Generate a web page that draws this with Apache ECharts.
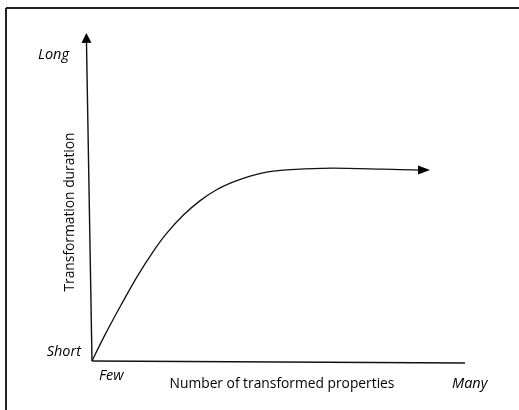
<!DOCTYPE html>
<html>
<head>
<meta charset="utf-8">
<script src="https://cdn.jsdelivr.net/npm/echarts@6/dist/echarts.min.js"></script>
<style>
  html, body { margin: 0; padding: 0; background: #fff; }
  #chart { width: 519px; height: 410px; }
</style>
</head>
<body>
<div id="chart"></div>
<script>
// curve: transformation duration vs number of properties (0..100 both ways)
var curveX = [0, 3.4, 7.9, 12.3, 16.8, 20.0, 24.5, 29.0, 33.4, 37.9, 42.4, 46.8, 51.3, 55.8, 64.6, 78.0, 89.0];
var curveY = [0, 7.8, 17.3, 26.1, 34.0, 38.9, 44.5, 48.9, 52.2, 54.6, 56.4, 57.6, 58.2, 58.5, 58.8, 58.5, 58.2];
// hand-drawn axes, the vertical one leans a little
var yAxisX = [0, -1.5];
var yAxisY = [0, 98.5];
var xAxisX = [0, 100];
var xAxisY = [0, -0.6];

var yTitle = 'Transformation duration';
var xTitle = 'Number of transformed properties';
var yEnds = ['Short', 'Long'];
var xEnds = ['Few', 'Many'];

function pairs(xs, ys) {
	return xs.map(function (x, i) { return [x, ys[i]]; });
}

function arrowAtEnd(n, size) {
	return function (val, params) {
		return params.dataIndex === n - 1 ? size : 0;
	};
}

var font = '"Open Sans", sans-serif';
var endStyle = { fontFamily: font, fontStyle: 'italic', fontSize: 14.5, fill: '#000', verticalAlign: 'middle' };
var titleStyle = { fontFamily: font, fontSize: 13.8, fill: '#000', align: 'center', verticalAlign: 'middle' };

function textStyle(base, extra) {
	return Object.assign({}, base, extra);
}

var myChart = echarts.init(document.getElementById('chart'));
var option = {
	animation: false,
	grid: { left: 73.35, top: 33, right: 54, bottom: 32.6 },
	xAxis: { type: 'value', min: -5, max: 100, show: false },
	yAxis: { type: 'value', min: -5, max: 100, show: false },
	graphic: [
		// frame (only top and left edges fall inside the picture)
		{ type: 'line', shape: { x1: 6, y1: 8, x2: 519, y2: 8 }, style: { stroke: '#222', lineWidth: 2 } },
		{ type: 'line', shape: { x1: 6, y1: 8, x2: 6, y2: 410 }, style: { stroke: '#222', lineWidth: 2 } },
		{ type: 'text', x: 69, y: 55, style: textStyle(endStyle, { text: yEnds[1], align: 'right' }) },
		{ type: 'text', x: 81, y: 352, style: textStyle(endStyle, { text: yEnds[0], align: 'right' }) },
		{ type: 'text', x: 99, y: 376, style: textStyle(endStyle, { text: xEnds[0], align: 'left' }) },
		{ type: 'text', x: 452, y: 384, style: textStyle(endStyle, { text: xEnds[1], align: 'left' }) },
		{ type: 'text', x: 282, y: 384, style: textStyle(titleStyle, { text: xTitle }) },
		{ type: 'text', x: 70, y: 212, rotation: Math.PI / 2, style: textStyle(titleStyle, { text: yTitle }) }
	],
	series: [
		{
			name: 'x axis',
			type: 'line',
			clip: false,
			silent: true,
			symbol: 'none',
			data: pairs(xAxisX, xAxisY),
			lineStyle: { color: '#111', width: 1.4 }
		},
		{
			name: 'y axis',
			type: 'line',
			clip: false,
			silent: true,
			symbol: 'triangle',
			showAllSymbol: true,
			symbolSize: arrowAtEnd(yAxisX.length, [10, 10]),
			symbolRotate: 1,
			itemStyle: { color: '#000' },
			data: pairs(yAxisX, yAxisY),
			lineStyle: { color: '#111', width: 1.4 }
		},
		{
			name: 'duration',
			type: 'line',
			clip: false,
			silent: true,
			smooth: 0.3,
			symbol: 'triangle',
			showAllSymbol: true,
			symbolSize: arrowAtEnd(curveX.length, [9, 12]),
			symbolRotate: -90,
			itemStyle: { color: '#000' },
			data: pairs(curveX, curveY),
			lineStyle: { color: '#111', width: 1.3, join: 'round' }
		}
	]
};
myChart.setOption(option, true);
</script>
</body>
</html>
